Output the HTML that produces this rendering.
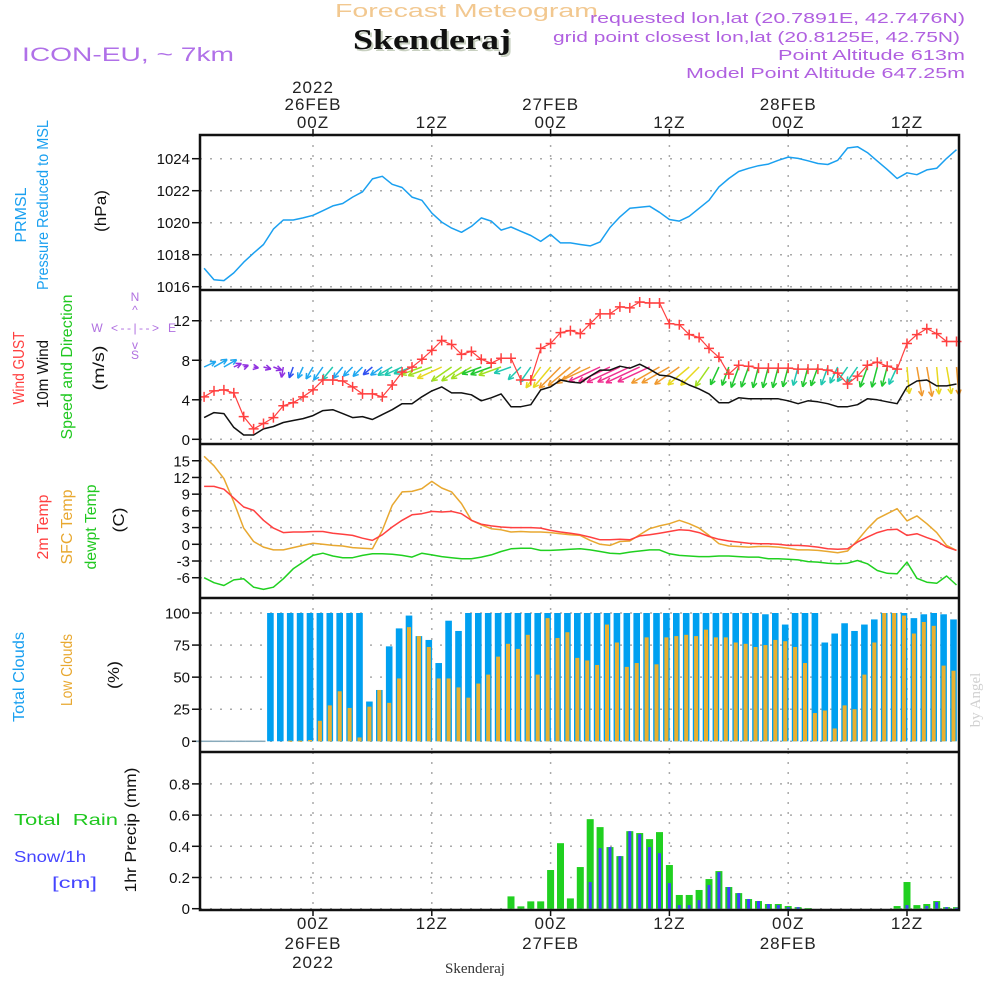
<!DOCTYPE html>
<html><head><meta charset="utf-8"><title>Meteogram Skenderaj</title>
<style>
html,body{margin:0;padding:0;background:#fff;}
svg{display:block;font-family:"Liberation Sans",sans-serif;}
</style></head>
<body>
<svg id="chart" width="1000" height="1000" viewBox="0 0 1000 1000">
  <text x="335" y="17" font-size="18" fill="#f2c890" textLength="263" lengthAdjust="spacingAndGlyphs">Forecast Meteogram</text>
  <text x="355" y="51" font-size="28" font-weight="bold" font-family="Liberation Serif,serif" fill="#c8d0c0" textLength="158" lengthAdjust="spacingAndGlyphs">Skenderaj</text>
  <text x="353" y="49" font-size="28" font-weight="bold" font-family="Liberation Serif,serif" fill="#111" textLength="158" lengthAdjust="spacingAndGlyphs">Skenderaj</text>
  <text x="22" y="61" font-size="19" fill="#b070e8" textLength="212" lengthAdjust="spacingAndGlyphs">ICON-EU, ~ 7km</text>
  <text x="965" y="23" font-size="15" fill="#b060e0" text-anchor="end" textLength="375" lengthAdjust="spacingAndGlyphs">requested lon,lat (20.7891E, 42.7476N)</text>
  <text x="960" y="42" font-size="15" fill="#b060e0" text-anchor="end" textLength="407" lengthAdjust="spacingAndGlyphs">grid point closest lon,lat (20.8125E, 42.75N)</text>
  <text x="965" y="60" font-size="15" fill="#b060e0" text-anchor="end" textLength="187" lengthAdjust="spacingAndGlyphs">Point Altitude 613m</text>
  <text x="965" y="78" font-size="15" fill="#b060e0" text-anchor="end" textLength="279" lengthAdjust="spacingAndGlyphs">Model Point Altitude 647.25m</text>
  <text x="475" y="973" font-size="15" font-family="Liberation Serif,serif" fill="#333" text-anchor="middle">Skenderaj</text>
  <text transform="translate(980,700) rotate(-90)" font-size="15" font-family="Liberation Serif,serif" fill="#d0d0d0" text-anchor="middle">by Angel</text>

  <g font-size="16" text-anchor="middle">
    <text transform="translate(26,215) rotate(-90)" fill="#1aa0f0" textLength="55" lengthAdjust="spacingAndGlyphs">PRMSL</text>
    <text transform="translate(48,205) rotate(-90)" fill="#1aa0f0" textLength="170" lengthAdjust="spacingAndGlyphs">Pressure Reduced to MSL</text>
    <text transform="translate(106,211) rotate(-90)" fill="#111" textLength="42" lengthAdjust="spacingAndGlyphs">(hPa)</text>
    <text transform="translate(24,368) rotate(-90)" fill="#ff4040" textLength="73" lengthAdjust="spacingAndGlyphs">Wind GUST</text>
    <text transform="translate(48,374) rotate(-90)" fill="#111" textLength="68" lengthAdjust="spacingAndGlyphs">10m Wind</text>
    <text transform="translate(72,367) rotate(-90)" fill="#20c820" textLength="145" lengthAdjust="spacingAndGlyphs">Speed and Direction</text>
    <text transform="translate(104,368) rotate(-90)" fill="#111" textLength="45" lengthAdjust="spacingAndGlyphs">(m/s)</text>
    <text transform="translate(48,527) rotate(-90)" fill="#ff4040" textLength="65" lengthAdjust="spacingAndGlyphs">2m Temp</text>
    <text transform="translate(72,527) rotate(-90)" fill="#e8a830" textLength="75" lengthAdjust="spacingAndGlyphs">SFC Temp</text>
    <text transform="translate(96,527) rotate(-90)" fill="#20c820" textLength="85" lengthAdjust="spacingAndGlyphs">dewpt Temp</text>
    <text transform="translate(124,520) rotate(-90)" fill="#111" textLength="25" lengthAdjust="spacingAndGlyphs">(C)</text>
    <text transform="translate(24,677) rotate(-90)" fill="#1aa0f0" textLength="90" lengthAdjust="spacingAndGlyphs">Total Clouds</text>
    <text transform="translate(72,670) rotate(-90)" fill="#e8a830" textLength="72" lengthAdjust="spacingAndGlyphs">Low Clouds</text>
    <text transform="translate(119,675) rotate(-90)" fill="#111" textLength="28" lengthAdjust="spacingAndGlyphs">(%)</text>
    <text transform="translate(136,830) rotate(-90)" fill="#111" textLength="125" lengthAdjust="spacingAndGlyphs">1hr Precip (mm)</text>
  </g>
  <text x="14" y="825" font-size="16" fill="#20c820" textLength="104" lengthAdjust="spacingAndGlyphs" xml:space="preserve">Total  Rain</text>
  <text x="14" y="862" font-size="16" fill="#4444ff" textLength="72" lengthAdjust="spacingAndGlyphs">Snow/1h</text>
  <text x="52" y="888" font-size="16" fill="#4444ff" textLength="45" lengthAdjust="spacingAndGlyphs">[cm]</text>
  <g fill="#b070e0" font-size="12" text-anchor="middle">
    <text x="135" y="301">N</text><text x="135" y="314">^</text>
    <text x="97" y="332">W</text><text x="135" y="332" textLength="48">&lt;--|--&gt;</text><text x="172" y="332">E</text>
    <text x="135" y="349">v</text><text x="135" y="359">S</text>
  </g>
  <g id="plot"></g>
</svg>
<script>
// ---- data (hourly, from 25FEB 13Z to 28FEB 18Z) ----
const hours = [];
for (let h = -11; h <= 65; h++) hours.push(h);
const timeTickHours = [0, 12, 24, 36, 48, 60];
const timeTickTop = [["2022","26FEB","00Z"],["","","12Z"],["","27FEB","00Z"],["","","12Z"],["","28FEB","00Z"],["","","12Z"]];
const timeTickBottom = [["00Z","26FEB","2022"],["12Z","",""],["00Z","27FEB",""],["12Z","",""],["00Z","28FEB",""],["12Z","",""]];

const pressure = [1017.15,1016.44,1016.38,1016.86,1017.53,1018.1,1018.64,1019.6,1020.17,1020.17,1020.3,1020.46,1020.75,1021.05,1021.2,1021.6,1021.93,1022.74,1022.9,1022.4,1022.2,1021.6,1021.4,1020.6,1020.04,1019.66,1019.4,1019.77,1020.3,1020.1,1019.54,1019.73,1019.46,1019.2,1018.83,1019.27,1018.74,1018.74,1018.64,1018.55,1018.8,1019.7,1020.36,1020.9,1020.97,1021.03,1020.65,1020.2,1020.1,1020.4,1020.9,1021.4,1022.24,1022.76,1023.2,1023.4,1023.56,1023.66,1023.9,1024.1,1024.02,1023.87,1023.7,1023.64,1023.9,1024.67,1024.75,1024.38,1023.85,1023.33,1022.76,1023.12,1023.0,1023.3,1023.4,1024.02,1024.56];
const windSpeed = [2.2,2.7,2.6,1.2,0.44,0.44,1.05,1.3,1.7,1.9,2.1,2.4,2.9,3.0,2.6,2.2,2.3,2.0,2.5,3.0,3.6,3.6,4.3,4.9,5.3,4.7,4.7,4.5,3.9,4.2,4.6,3.3,3.3,3.5,5.0,5.3,6.0,5.8,5.7,6.4,7.0,7.0,7.4,7.2,7.6,7.1,6.5,6.4,6.0,5.5,5.1,4.6,3.7,3.7,4.2,4.1,4.1,4.1,4.1,3.9,3.6,3.9,3.8,3.6,3.3,3.3,3.5,4.1,4.0,3.8,3.6,5.3,5.9,6.0,5.4,5.4,5.6];
const windGust = [4.3,4.9,5.0,4.7,2.3,1.05,1.6,2.2,3.4,3.7,4.3,5.0,6.0,6.0,5.9,5.3,4.6,4.6,4.3,5.5,6.8,7.3,8.1,9.0,10.0,9.6,8.6,8.9,8.1,7.7,8.2,8.2,6.0,6.0,9.2,9.7,10.8,11.0,10.7,11.7,12.7,12.7,13.4,13.3,13.9,13.8,13.8,11.7,11.6,10.6,10.3,9.2,8.3,6.6,7.5,7.4,7.2,7.2,7.2,7.2,7.1,7.1,7.1,7.0,6.7,5.6,6.4,7.5,7.8,7.4,7.1,9.7,10.6,11.2,10.7,9.9,9.9];
const windDir = [65,60,60,65,70,100,105,110,190,200,205,210,215,220,220,225,225,230,235,240,245,250,250,250,245,235,235,240,250,250,250,250,225,215,215,220,225,230,235,245,245,245,245,245,245,245,240,240,235,230,225,215,205,200,200,200,195,195,195,195,195,195,200,200,205,215,215,200,195,195,205,175,170,170,175,170,175];
const temp2m = [10.4,10.4,9.9,8.3,6.7,6.1,4.3,2.9,2.1,2.2,2.2,2.3,2.3,2.0,1.8,1.6,1.1,0.7,1.7,3.1,4.3,5.3,5.5,5.9,5.8,5.9,5.5,4.3,3.6,3.3,3.1,3.0,3.0,3.0,2.9,2.5,2.2,2.0,1.7,1.3,0.8,0.8,0.9,0.8,1.5,1.7,2.0,2.3,2.6,2.5,2.1,1.4,0.9,0.6,0.4,0.2,0.1,0.1,0.0,-0.2,-0.2,-0.3,-0.5,-0.8,-0.9,-0.8,0.4,1.3,2.1,2.6,2.7,1.6,1.9,1.2,0.6,-0.5,-1.1];
const tempSfc = [15.8,14.1,11.8,7.6,2.9,0.5,-0.5,-1.0,-1.0,-0.6,-0.2,0.2,0.0,-0.2,-0.3,-0.6,-0.7,-0.8,2.5,7.0,9.4,9.5,10.0,11.3,10.1,9.4,7.3,4.3,3.5,2.8,2.6,2.2,2.3,2.2,2.2,2.1,1.9,1.7,1.6,0.7,0.0,-0.2,0.5,0.6,1.7,2.8,3.3,3.7,4.3,3.7,2.9,1.6,0.1,-0.3,-0.4,-0.5,-0.4,-0.4,-0.5,-0.7,-1.0,-1.0,-1.1,-1.3,-1.5,-1.2,0.7,2.8,4.6,5.5,6.4,4.2,5.1,3.7,2.1,-0.2,-1.1];
const dewpoint = [-6.0,-6.9,-7.4,-6.4,-6.2,-7.7,-8.1,-7.7,-6.2,-4.4,-3.2,-2.0,-1.6,-2.1,-2.4,-2.4,-2.0,-1.7,-1.7,-1.8,-2.0,-2.3,-1.6,-1.9,-2.2,-2.4,-2.6,-2.6,-2.3,-1.9,-1.3,-0.8,-0.7,-0.7,-1.1,-1.1,-1.0,-0.9,-0.8,-1.0,-1.3,-1.6,-1.7,-1.4,-1.2,-1.0,-1.0,-1.7,-2.0,-2.1,-2.2,-2.2,-2.1,-2.1,-2.2,-2.3,-2.3,-2.6,-2.6,-2.7,-2.8,-3.1,-3.2,-3.4,-3.5,-3.4,-2.9,-3.5,-4.7,-5.2,-5.3,-3.2,-6.1,-6.8,-7.0,-5.7,-7.3];
const totalClouds = [0,0,0,0,0,0,0,100,100,100,100,100,100,100,100,100,100,31,40,74,88,98,82,79,61,94,86,100,100,100,100,100,100,100,100,100,100,100,100,100,100,100,100,100,100,100,100,100,100,100,100,100,100,100,100,100,100,99,100,91,100,100,100,77,84,92,86,91,95,100,100,100,96,99,100,99,95];
const lowClouds = [0,0,0,0,0,0,0,0,0,0.5,0.5,1,16,28,39,26,3,27,40,30,49,89,82,73.5,49,49,42,34,45,52,66,76,72,83,52,96,80.5,85,65,63,59.5,91,77,58,61,81,60,81,82,83,82,87,81,81,77,76,73.5,75,79,78,73.5,61,22,24,10,28,25,52,77,100,100,98,84,93,90,59,55];
const rain = [0,0,0,0,0,0,0,0,0,0,0,0,0,0,0,0,0,0,0,0,0,0,0,0,0,0,0,0,0,0,0,0.079,0.015,0.047,0.047,0.248,0.42,0.066,0.267,0.574,0.523,0.395,0.337,0.497,0.485,0.446,0.491,0.28,0.088,0.088,0.12,0.19,0.241,0.139,0.1,0.062,0.049,0.03,0.03,0.017,0.01,0.004,0,0,0,0,0,0,0,0,0.017,0.171,0.023,0.03,0.049,0.01,0.01];
const snow = [0,0,0,0,0,0,0,0,0,0,0,0,0,0,0,0,0,0,0,0,0,0,0,0,0,0,0,0,0,0,0,0,0,0,0,0,0,0,0.002,0.171,0.388,0.395,0.337,0.497,0.478,0.395,0.356,0.164,0.023,0.023,0.055,0.152,0.235,0.139,0.1,0.062,0.049,0.03,0.023,0.01,0.01,0,0,0,0,0,0,0,0,0,0,0.023,0,0.017,0.043,0.01,0.006];
const pTicks = [1016,1018,1020,1022,1024];
const wTicks = [0,4,8,12];
const tTicks = [-6,-3,0,3,6,9,12,15];
const cTicks = [0,25,50,75,100];
const rTicks = [0,0.2,0.4,0.6,0.8];

// ---- scales ----
const X0 = 200, X1 = 959;
const xH = h => 313 + h * 9.9;
const yP = v => 286.7 - (v - 1016) * 16;
const yW = v => 439.3 - v * 9.88;
const yT = v => 544.3 - v * 5.57;
const yC = v => 741.3 - v * 1.283;
const yR = v => 908.7 - v * 156;

const NS = "http://www.w3.org/2000/svg";
const plot = document.getElementById("plot");
function mk(tag, attrs, parent) {
  const e = document.createElementNS(NS, tag);
  for (const k in attrs) e.setAttribute(k, attrs[k]);
  (parent || plot).appendChild(e);
  return e;
}
const panels = [
  {top:135, bot:290, ticks:pTicks, y:yP, fmt:v=>String(v), name:"pressure"},
  {top:290, bot:444, ticks:wTicks, y:yW, fmt:v=>String(v), name:"wind"},
  {top:444, bot:598, ticks:tTicks, y:yT, fmt:v=>String(v), name:"temperature"},
  {top:598, bot:752, ticks:cTicks, y:yC, fmt:v=>String(v), name:"clouds"},
  {top:752, bot:910, ticks:rTicks, y:yR, fmt:v=>v===0?"0":v.toFixed(1), name:"precip"}
];
panels.forEach(p => {
  p.ticks.forEach(v => {
    const y = p.y(v);
    let g = mk("line", {x1:X0, x2:X1, y1:y, y2:y, stroke:"#aaa", "stroke-width":1.5, "stroke-dasharray":"2,8"});
    
    
    let t = mk("line", {x1:X0-8, x2:X0, y1:y, y2:y, stroke:"#111", "stroke-width":1.5});
    
    
    let l = mk("text", {x:190, y:y+5.5, "font-size":15, "text-anchor":"end", fill:"#111"});
    l.textContent = p.fmt(v);
    
    
  });
  timeTickHours.forEach(h => {
    let g = mk("line", {x1:xH(h), x2:xH(h), y1:p.top, y2:p.bot, stroke:"#aaa", "stroke-width":1.5, "stroke-dasharray":"2,8"});
    
    
  });
});
timeTickHours.forEach((h, k) => {
  const x = xH(h);
  let t1 = mk("line", {x1:x, x2:x, y1:129, y2:135, stroke:"#111", "stroke-width":1.5});
  
  
  let t2 = mk("line", {x1:x, x2:x, y1:910, y2:916, stroke:"#111", "stroke-width":1.5});
  
  
  [93,110,128].forEach((y, j) => {
    const s = timeTickTop[k][j];
    if (!s) return;
    let t = mk("text", {x:x, y:y, "font-size":17, "text-anchor":"middle", fill:"#222", "letter-spacing":"1"});
    t.textContent = s;
    
    
  });
  [929,949,968].forEach((y, j) => {
    const s = timeTickBottom[k][j];
    if (!s) return;
    let t = mk("text", {x:x, y:y, "font-size":17, "text-anchor":"middle", fill:"#222", "letter-spacing":"1"});
    t.textContent = s;
    
    
  });
});
function line(vals, yf, color, name, w) {
  const pts = vals.map((v, i) => xH(hours[i]).toFixed(1) + "," + yf(v).toFixed(1)).join(" ");
  const e = mk("polyline", {points:pts, fill:"none", stroke:color, "stroke-width":w || 1.5, "stroke-linejoin":"round"});
  
  
  return e;
}
line(pressure, yP, "#1aa0f0", "pressure-line");
function arrowColor(s) {
  if (s < 1.8) return "#9030e0";
  if (s < 2.1) return "#3050f0";
  if (s < 3.0) return "#20a8f0";
  if (s < 3.7) return "#20c8b0";
  if (s < 4.3) return "#20c830";
  if (s < 5.0) return "#a0e020";
  if (s < 5.6) return "#e8d820";
  if (s < 6.6) return "#f09a30";
  return "#f03090";
}
windDir.forEach((d, i) => {
  const s = windSpeed[i];
  const x = xH(hours[i]), y = 367;
  const len = 4.5 * s + 3;
  const a = d * Math.PI / 180;
  const hx = x + Math.sin(a) * len, hy = y - Math.cos(a) * len;
  const c = arrowColor(s);
  const g = mk("g", {stroke:c, "stroke-width":1.5, fill:"none"});
  
  
  mk("line", {x1:x, y1:y, x2:hx, y2:hy}, g);
  [0.45, -0.45].forEach(o => {
    const b = a + Math.PI + o;
    mk("line", {x1:hx, y1:hy, x2:hx + Math.sin(b) * 6, y2:hy - Math.cos(b) * 6}, g);
  });
});
line(windSpeed, yW, "#111", "wind-speed-line");
line(windGust, yW, "#ff4040", "wind-gust-line", 1.2);
windGust.forEach((v, i) => {
  const x = xH(hours[i]), y = yW(v);
  const m = mk("path", {d:`M${x-5},${y}H${x+5}M${x},${y-5}V${y+5}`, stroke:"#ff4040", "stroke-width":1.5});
  
  
});
line(tempSfc, yT, "#e8a830", "sfc-temp-line");
line(temp2m, yT, "#ff4040", "temp-2m-line");
line(dewpoint, yT, "#20d020", "dewpoint-line");
totalClouds.forEach((v, i) => {
  const x = xH(hours[i]) - 3;
  if (v <= 0) {
    const z = mk("line", {x1:x-5, x2:x+5, y1:yC(0), y2:yC(0), stroke:"#8ab", "stroke-width":1.5});
    
    
    return;
  }
  const b = mk("rect", {x:x-3.3, y:yC(v), width:6.6, height:yC(0)-yC(v), fill:"#00a0f0"});
  
  
});
lowClouds.forEach((v, i) => {
  if (v <= 0) return;
  const x = xH(hours[i]) - 3;
  const b = mk("rect", {x:x-2, y:yC(v), width:4, height:Math.max(1, yC(0)-yC(v)), fill:"#e8b030"});
  
  
});
rain.forEach((v, i) => {
  if (v <= 0) return;
  const x = xH(hours[i]);
  const b = mk("rect", {x:x-3.5, y:yR(v), width:7, height:yR(0)-yR(v), fill:"#20d020"});
  
  
});
snow.forEach((v, i) => {
  if (v <= 0) return;
  const x = xH(hours[i]);
  const b = mk("rect", {x:x-1.5, y:yR(v), width:3, height:yR(0)-yR(v), fill:"#4040ff"});
  
  
});
const fr = mk("rect", {x:X0, y:135, width:X1-X0, height:775, fill:"none", stroke:"#111", "stroke-width":2.5});


[290, 444, 598, 752].forEach(y => {
  const s = mk("line", {x1:X0, x2:X1, y1:y, y2:y, stroke:"#111", "stroke-width":2.5});
  
  
});
</script>
</body></html>
